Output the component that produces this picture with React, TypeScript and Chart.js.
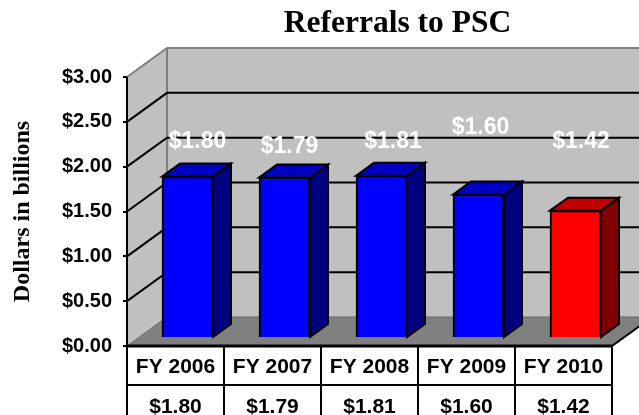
import React, { useEffect, useRef } from "react";
import { Chart, registerables } from "chart.js";

Chart.register(...registerables);

const categories = ["FY 2006", "FY 2007", "FY 2008", "FY 2009", "FY 2010"];
const referrals = [1.8, 1.79, 1.81, 1.6, 1.42];
const yTicks = [0, 0.5, 1, 1.5, 2, 2.5, 3];

const money = (v: number) => "$" + v.toFixed(2);

// Depth of the fake 3D box and of the bars, and where the bars sit inside it.
const BOX_DX = 40;
const BOX_DY = 29;
const BAR_DX = 18;
const BAR_DY = 13;
const BAR_SHIFT_X = 12;
const BAR_SHIFT_Y = 8;
const ROW_LINE = 39;

// Hand placement of the white data labels, relative to each bar's front top centre.
const labelNudgeX = [10, 5, 11.5, 2, 5.5];
const labelLift = [35, 31, 34, 67, 69];

const poly = (ctx: CanvasRenderingContext2D, pts: number[][], fill?: string, stroke?: string, w = 2) => {
  ctx.beginPath();
  pts.forEach((p, i) => (i ? ctx.lineTo(p[0], p[1]) : ctx.moveTo(p[0], p[1])));
  if (fill) {
    ctx.closePath();
    ctx.fillStyle = fill;
    ctx.fill();
  }
  if (stroke) {
    ctx.strokeStyle = stroke;
    ctx.lineWidth = w;
    ctx.lineJoin = "miter";
    ctx.stroke();
  }
};

const boxPlugin = {
  id: "box3d",
  afterLayout(chart: any) {
    // The title is centred over the plot's right-hand side, as in the source slide.
    chart.titleBlock.left = 183;
  },
  beforeDraw(chart: any) {
    const { ctx, chartArea: a, scales } = chart;
    const { left: l, right: r, top: t, bottom: b } = a;
    const y = scales.y;
    const x = scales.x;
    const dx = BOX_DX;
    const dy = BOX_DY;
    ctx.save();
    poly(ctx, [[l, b], [l + dx, b - dy], [l + dx, t - dy], [l, t]], "#c0c0c0");
    poly(ctx, [[l + dx, t - dy], [r + dx, t - dy], [r + dx, b - dy], [l + dx, b - dy]], "#c0c0c0");
    poly(ctx, [[l, b], [r, b], [r + dx, b - dy], [l + dx, b - dy]], "#808080");
    // wall edges
    poly(ctx, [[l, t], [l + dx, t - dy], [r + dx, t - dy]], undefined, "#808080", 2);
    poly(ctx, [[l + dx, t - dy], [l + dx, b - dy]], undefined, "#808080", 2);
    poly(ctx, [[l, b], [l + dx, b - dy], [r + dx, b - dy]], undefined, "#666666", 1);
    // gridlines
    yTicks.slice(1, -1).forEach((v) => {
      const py = y.getPixelForValue(v);
      poly(ctx, [[l, py], [l + dx, py - dy], [r + dx, py - dy]], undefined, "#000000", 2);
    });
    // floor front-right edge
    poly(ctx, [[r, b], [r + dx, b - dy]], undefined, "#000000", 2);
    // data table under the plot
    const h = chart.height;
    poly(ctx, [[l, b], [r, b]], undefined, "#000000", 3);
    poly(ctx, [[l, b + ROW_LINE], [r, b + ROW_LINE]], undefined, "#000000", 2);
    const step = (r - l) / categories.length;
    for (let i = 0; i <= categories.length; i++) {
      const px = i < categories.length ? x.getPixelForValue(i) - step / 2 : r;
      poly(ctx, [[px, b], [px, h]], undefined, "#000000", 2);
    }
    poly(ctx, [[l, t], [l, b]], undefined, "#000000", 2);
    ctx.restore();
  },
  beforeDatasetsDraw(chart: any) {
    const { ctx } = chart;
    ctx.save();
    ctx.translate(BAR_SHIFT_X, -BAR_SHIFT_Y);
    const bars = chart.getDatasetMeta(0).data;
    bars.forEach((bar: any, i: number) => {
      const half = bar.width / 2;
      const lft = bar.x - half;
      const rgt = bar.x + half;
      const top = bar.y;
      const bot = bar.base;
      const red = i === bars.length - 1;
      poly(ctx, [[lft, top], [lft + BAR_DX, top - BAR_DY], [rgt + BAR_DX, top - BAR_DY], [rgt, top]], red ? "#c00000" : "#0000c0", "#000000", 2);
      poly(ctx, [[rgt, top], [rgt + BAR_DX, top - BAR_DY], [rgt + BAR_DX, bot - BAR_DY], [rgt, bot]], red ? "#800000" : "#000080", "#000000", 2);
    });
  },
  afterDatasetsDraw(chart: any) {
    const { ctx } = chart;
    ctx.restore();
    ctx.save();
    ctx.font = "bold 23px 'Liberation Sans'";
    ctx.fillStyle = "#ffffff";
    ctx.textAlign = "center";
    ctx.textBaseline = "middle";
    chart.getDatasetMeta(0).data.forEach((bar: any, i: number) => {
      ctx.fillText(money(referrals[i]), bar.x + BAR_SHIFT_X + labelNudgeX[i], bar.y - BAR_SHIFT_Y - labelLift[i]);
    });
    ctx.restore();
  },
};

export default function App() {
  const ref = useRef<HTMLCanvasElement>(null);
  useEffect(() => {
    const chart = new Chart(ref.current!, {
      type: "bar",
      data: {
        labels: categories,
        datasets: [
          {
            label: "Referrals to PSC",
            data: referrals,
            backgroundColor: ["#0000ff", "#0000ff", "#0000ff", "#0000ff", "#ff0000"],
            borderColor: "#000000",
            borderWidth: 2,
            barThickness: 51,
            clip: false as any,
          },
        ],
      },
      options: {
        responsive: false,
        animation: false,
        layout: { padding: { top: 3, right: 27, left: 0, bottom: 0 } },
        plugins: {
          legend: { display: false },
          tooltip: { enabled: false },
          title: {
            display: true,
            text: "Referrals to PSC",
            color: "#000000",
            font: { family: "'Liberation Serif'", size: 31.5, weight: "bold", lineHeight: 1.2 },
            padding: { top: 2, bottom: 34.2 },
          },
        },
        scales: {
          y: {
            min: 0,
            max: 3,
            afterFit: (s: any) => {
              s.width = 127;
            },
            afterBuildTicks: (s: any) => {
              s.ticks = yTicks.map((value) => ({ value }));
            },
            border: { display: false },
            grid: { drawOnChartArea: false, drawTicks: true, tickLength: 4, color: "#000000", lineWidth: 2 },
            ticks: {
              color: "#000000",
              padding: 11,
              font: { family: "'Liberation Sans'", size: 20, weight: "bold" },
              callback: (v: any) => money(Number(v)),
            },
            title: {
              display: true,
              text: "Dollars in billions",
              color: "#000000",
              padding: { top: 8, bottom: 0 },
              font: { family: "'Liberation Serif'", size: 24, weight: "bold", lineHeight: 1.2 },
            },
          },
          x: {
            afterFit: (s: any) => {
              s.height = 69;
            },
            border: { display: false },
            grid: { display: false, drawTicks: false },
            ticks: {
              color: "#000000",
              padding: 1,
              maxRotation: 0,
              autoSkip: false,
              font: { family: "'Liberation Sans'", size: 21, weight: "bold", lineHeight: "40px" as any },
              callback: (_v: any, i: number) => [categories[i], money(referrals[i])],
            },
          },
        },
      },
      plugins: [boxPlugin],
    });
    return () => chart.destroy();
  }, []);
  return (
    <div style={{ position: "fixed", left: 0, top: 0, width: 639, height: 415, overflow: "hidden", background: "#fff" }}>
      <canvas ref={ref} width={639} height={415} style={{ display: "block" }} />
    </div>
  );
}
